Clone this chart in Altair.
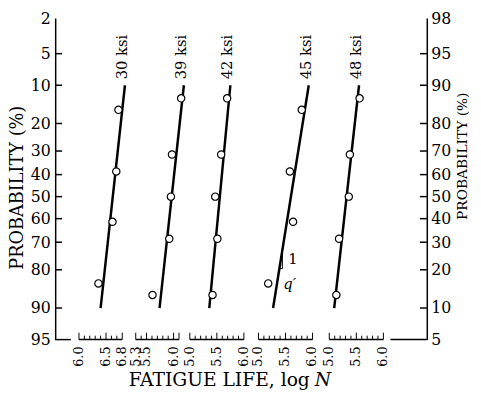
import altair as alt
import pandas as pd
from statistics import NormalDist

ND = NormalDist()


def z(p):
    return ND.inv_cdf(p / 100.0)


W, H = 378, 327

# ---------------- data ----------------
stress_labels = ["30 ksi", "39 ksi", "42 ksi", "45 ksi", "48 ksi"]
# broken x axis: where each log N segment begins (global units) and its range
seg_start = [0.44, 1.49, 2.49, 3.76, 5.07]
axis_from = [6.0, 5.3, 5.0, 5.0, 5.0]
axis_to = [6.8, 6.1, 6.0, 6.0, 6.0]
axis_labels = [["6.0", "6.5", "6.8"], ["5.3", "5.5", "6.0"], ["5.0", "5.5", "6.0"],
               ["5.0", "5.5", "6.0"], ["5.0", "5.5", "6.0"]]
frame_stubs = [[0.0, 0.29], [6.20, 6.873]]
u_max = 6.873

rank4 = [15.9, 38.6, 61.4, 84.1]
rank5 = [12.9, 31.4, 50.0, 68.6, 87.1]
prob = [rank4, rank5, rank5, rank4, rank5]
life = [
    [6.73, 6.69, 6.62, 6.36],
    [6.14, 5.97, 5.95, 5.92, 5.61],
    [5.69, 5.58, 5.47, 5.51, 5.42],
    [5.80, 5.58, 5.64, 5.18],
    [5.56, 5.38, 5.36, 5.18, 5.13],
]
fit_p = [10, 90]
fit_life = [[6.85, 6.40], [6.19, 5.74], [5.75, 5.36], [5.93, 5.27], [5.55, 5.09]]

prob_ticks = [2, 5, 10, 20, 30, 40, 50, 60, 70, 80, 90, 95]
inner_ticks = [5, 10, 20, 30, 40, 50, 60, 70, 80, 90]

slope_group = 3
slope_p = [73.0, 79.6]


def u_of(g, v):
    return seg_start[g] + (v - axis_from[g])


# ---------------- tables ----------------
pts = pd.DataFrame([
    {"g": g, "u": u_of(g, v), "z": z(p)}
    for g in range(5) for v, p in zip(life[g], prob[g])
])
fits = pd.DataFrame([
    {"g": g, "u": u_of(g, v), "z": z(p)}
    for g in range(5) for v, p in zip(fit_life[g], fit_p)
])
lab = pd.DataFrame([
    {"label": stress_labels[g], "u": u_of(g, fit_life[g][0]), "z": z(fit_p[0])}
    for g in range(5)
])

ticks_minor, ticks_major = [], []
for g in range(5):
    n = int(round((axis_to[g] - axis_from[g]) * 10))
    for i in range(n + 1):
        v = axis_from[g] + i * 0.1
        row = {"u": u_of(g, v)}
        if abs(v * 2 - round(v * 2)) < 1e-6 or i == 0 or i == n:
            ticks_major.append(row)
        else:
            ticks_minor.append(row)
ticks_minor = pd.DataFrame(ticks_minor)
ticks_major = pd.DataFrame(ticks_major)

xlab = pd.DataFrame([
    {"u": u_of(g, float(t)), "t": t} for g in range(5) for t in axis_labels[g]
])

segs = [{"u0": a, "u1": b} for a, b in frame_stubs]
segs += [{"u0": u_of(g, axis_from[g]), "u1": u_of(g, axis_to[g])} for g in range(5)]
segs = pd.DataFrame(segs)

ptick = pd.DataFrame({"z": [z(p) for p in inner_ticks]})
zvals = [z(p) for p in prob_ticks]

# slope triangle on the 45 ksi line
l10, l90 = fit_life[slope_group]
z10, z90 = z(fit_p[0]), z(fit_p[1])


def line_at(zz):
    return l10 + (zz - z10) / (z90 - z10) * (l90 - l10)


za, zb = z(slope_p[0]), z(slope_p[1])
uv = u_of(slope_group, line_at(za))
uh = u_of(slope_group, line_at(zb))
tri = pd.DataFrame([
    {"x": uv, "x2": uv, "y": za, "y2": zb},
    {"x": uh, "x2": uv, "y": zb, "y2": zb},
])
tri_txt = pd.DataFrame([
    {"u": uv, "z": (za + zb) / 2, "t": "1"},
])
tri_q = pd.DataFrame([{"u": uh, "z": zb, "t": "q\u2032"}])

# ---------------- scales ----------------
xs = alt.Scale(domain=[0, u_max], nice=False, zero=False)
ys = alt.Scale(domain=[z(2), z(95)], reverse=True, nice=False, zero=False)
X = lambda f="u": alt.X(f"{f}:Q", scale=xs, axis=None)
Y = lambda f="z": alt.Y(f"{f}:Q", scale=ys, axis=None)

SERIF = "DejaVu Serif"

top_axis = alt.Chart(segs).mark_rule(color="black", strokeWidth=1.5).encode(
    x=alt.X("u0:Q", scale=xs, axis=alt.Axis(orient="top", labels=False, ticks=False,
                                             title=None, domainWidth=1.5, domainColor="black")),
    x2="u1:Q",
    y=alt.value(H),
)

left = alt.Chart(ptick).mark_rule(color="black", strokeWidth=1.5).encode(
    y=alt.Y("z:Q", scale=ys, axis=alt.Axis(
        orient="left", values=zvals, ticks=False, tickSize=0, labelPadding=5,
        labelExpr="format(round(100*cumulativeNormal(datum.value)), 'd')",
        labelOverlap=False, labelFlush=False, labelBound=False,
        title="PROBABILITY (%)", titleAngle=270, titleX=-38, titleY=172,
        titleFontSize=18, titleAlign="center", titleBaseline="middle")),
    x=alt.value(0), x2=alt.value(7),
)
right = alt.Chart(ptick).mark_rule(color="black", strokeWidth=1.5).encode(
    y=alt.Y("z:Q", scale=ys, axis=alt.Axis(
        orient="right", values=zvals, ticks=False, tickSize=0, labelPadding=4,
        labelExpr="format(100 - round(100*cumulativeNormal(datum.value)), 'd')",
        labelOverlap=False, labelFlush=False, labelBound=False,
        title="PROBABILITY (%)", titleAngle=270, titleX=36, titleY=140,
        titleFontSize=14, titleAlign="center", titleBaseline="middle")),
    x=alt.value(W - 7), x2=alt.value(W),
)

minor = alt.Chart(ticks_minor).mark_rule(color="black", strokeWidth=1).encode(
    x=X(), y=alt.value(H), y2=alt.value(H - 4))
major = alt.Chart(ticks_major).mark_rule(color="black", strokeWidth=1).encode(
    x=X(), y=alt.value(H), y2=alt.value(H - 7))
xlabels = alt.Chart(xlab).mark_text(
    angle=270, align="right", baseline="middle", font=SERIF, fontSize=13, color="black"
).encode(x=X(), y=alt.value(H + 7), text="t:N")

lines = alt.Chart(fits).mark_line(color="black", strokeWidth=2.5).encode(
    x=X(), y=Y(), detail="g:N")
points = alt.Chart(pts).mark_point(
    shape="circle", filled=True, fill="white", stroke="black", strokeWidth=1.2,
    size=55, opacity=1).encode(x=X(), y=Y())
stress = alt.Chart(lab).mark_text(
    angle=270, align="left", baseline="middle", dx=6, dy=-3,
    font=SERIF, fontSize=15, color="black").encode(x=X(), y=Y(), text="label:N")

tri_rules = alt.Chart(tri).mark_rule(color="black", strokeWidth=1).encode(
    x=X("x"), x2="x2:Q", y=Y("y"), y2="y2:Q")
tri_one = alt.Chart(tri_txt).mark_text(
    align="left", baseline="middle", dx=6, font=SERIF, fontSize=15, color="black"
).encode(x=X(), y=Y(), text="t:N")
tri_qt = alt.Chart(tri_q).mark_text(
    align="left", baseline="middle", dx=4, dy=16, font=SERIF, fontSize=15,
    fontStyle="italic", color="black").encode(x=X(), y=Y(), text="t:N")

one = pd.DataFrame({"a": [0]})
xt1 = alt.Chart(one).mark_text(
    text="FATIGUE LIFE, log", align="right", baseline="alphabetic",
    font=SERIF, fontSize=19, color="black").encode(x=alt.value(259), y=alt.value(H + 47))
xt2 = alt.Chart(one).mark_text(
    text="N", align="left", baseline="alphabetic", font=SERIF, fontSize=19,
    fontStyle="italic", color="black").encode(x=alt.value(264), y=alt.value(H + 47))

chart = alt.layer(
    top_axis, left, right, minor, major, xlabels, lines, points, stress,
    tri_rules, tri_one, tri_qt, xt1, xt2
).resolve_axis(y="independent").properties(
    width=W, height=H,
    autosize=alt.AutoSizeParams(type="none"),
    padding={"left": 48, "top": 7, "right": 47, "bottom": 50},
).configure_view(stroke=None).configure_axis(
    grid=False, domainColor="black", domainWidth=1.5, labelColor="black",
    labelFont=SERIF, labelFontSize=16, titleFont=SERIF, titleFontSize=16,
    titleFontWeight="normal", titleColor="black",
)

chart.save("out.html", embed_options={"renderer": "svg", "actions": False})
